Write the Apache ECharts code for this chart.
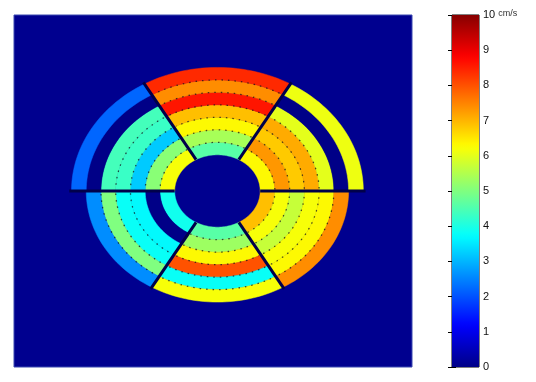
<!DOCTYPE html>
<html>
<head>
<meta charset="utf-8">
<script src="https://cdn.jsdelivr.net/npm/echarts/dist/echarts.min.js"></script>
<style>
  html, body { margin: 0; padding: 0; background: #ffffff; }
  #chart { width: 536px; height: 382px; }
</style>
</head>
<body>
<div id="chart"></div>
<script>
// Start angle of each 60-degree sector (degrees, counter-clockwise from east)
const sectorAngles = [0, 60, 120, 180, 240, 300];

// Speed in each radial ring of a sector, inner ring first (cm/s)
const ringsNE = [6.3, 7.3, 6.8, 7.1, 6.0, 0, 6.1];
const ringsN  = [4.6, 5.4, 6.3, 6.9, 8.6, 7.4, 8.4];
const ringsNW = [6.2, 5.1, 3.2, 4.3, 4.4, 0, 2.2];
const ringsSW = [3.9, 0, 3.7, 3.8, 5.0, 2.6];
const ringsS  = [4.6, 5.3, 6.3, 8.0, 3.8, 6.2];
const ringsSE = [6.9, 6.2, 5.7, 6.2, 6.3, 7.4];

// Colour bar tick labels
const colorbarTicks = [0, 1, 2, 3, 4, 5, 6, 7, 8, 9, 10];

// Radius of the empty core, in ring widths
const innerRadius = 2.9;

const sectors = [ringsNE, ringsN, ringsNW, ringsSW, ringsS, ringsSE];

// 64-step jet colormap
function jet(t) {
  const c = x => Math.round(255 * Math.max(0, Math.min(1, x)));
  const r = c(1.5 - Math.abs(4 * t - 3));
  const g = c(1.5 - Math.abs(4 * t - 2));
  const b = c(1.5 - Math.abs(4 * t - 1));
  return 'rgb(' + r + ',' + g + ',' + b + ')';
}
const jetColors = [];
for (let i = 0; i < 64; i++) jetColors.push(jet((i + 0.5) / 64));

// cells: [sector, ring, value]
const cells = [];
// dotted ring boundaries: [sector, boundaryIndex]
const boundaries = [];
sectors.forEach((rings, s) => {
  rings.forEach((v, i) => {
    cells.push([s, i, v]);
    if (i > 0 && v > 0 && rings[i - 1] > 0) boundaries.push([s, i]);
  });
});
// radial separators: [sector boundary index, outer radius]
const separators = sectorAngles.map((a, k) => {
  const prev = sectors[(k + 5) % 6].length, cur = sectors[k].length;
  return [k, innerRadius + Math.max(prev, cur)];
});

function arcPoints(api, r, a0, a1, steps) {
  const pts = [];
  for (let j = 0; j <= steps; j++) {
    const a = a0 + (a1 - a0) * j / steps;
    pts.push(api.coord([r * Math.cos(a), r * Math.sin(a)]));
  }
  return pts;
}

const chart = echarts.init(document.getElementById('chart'), null, { renderer: 'canvas' });

const gradStops = jetColors.map((c, i) => ({ offset: 1 - i / 63, color: c }));

chart.setOption({
  animation: false,
  backgroundColor: '#ffffff',
  grid: [
    { left: 14, top: 15, width: 398, height: 352, show: true,
      backgroundColor: '#00008f', borderColor: '#3a48b0', borderWidth: 1 },
    { left: 452, top: 15, width: 27, height: 352, show: true,
      backgroundColor: 'transparent', borderColor: '#000000', borderWidth: 1 }
  ],
  xAxis: [
    { gridIndex: 0, type: 'value', min: -13.8, max: 13.2, show: false },
    { gridIndex: 1, type: 'value', min: 0, max: 1, show: false }
  ],
  yAxis: [
    { gridIndex: 0, type: 'value', min: -14.1, max: 14.1, show: false },
    { gridIndex: 1, type: 'value', min: 0, max: 10, interval: 1, position: 'right',
      axisLine: { show: false }, splitLine: { show: false },
      axisTick: { show: true, inside: true, length: 4, lineStyle: { color: '#000' } },
      axisLabel: {
        show: true, margin: 4, color: '#111', fontSize: 11,
        fontFamily: 'Liberation Sans, Arial, sans-serif',
        formatter: v => colorbarTicks.indexOf(v) < 0 ? '' :
          (v === 10 ? '{n|10} {u|cm/s}' : '{n|' + v + '}'),
        rich: {
          n: { fontSize: 11, color: '#111', fontFamily: 'Liberation Sans, Arial, sans-serif' },
          u: { fontSize: 9, color: '#333', fontFamily: 'Liberation Sans, Arial, sans-serif', padding: [0, 0, 3, 0] }
        }
      } },
    { gridIndex: 1, type: 'value', min: 0, max: 10, interval: 1, position: 'left',
      axisLine: { show: false }, splitLine: { show: false }, axisLabel: { show: false },
      axisTick: { show: true, inside: true, length: 4, lineStyle: { color: '#000' } } }
  ],
  visualMap: {
    type: 'continuous', min: 0, max: 10, show: false,
    seriesIndex: 0, dimension: 2,
    inRange: { color: jetColors }
  },
  series: [
    {
      type: 'custom', xAxisIndex: 0, yAxisIndex: 0, data: cells,
      renderItem: (params, api) => {
        const s = api.value(0), i = api.value(1);
        const a0 = sectorAngles[s] * Math.PI / 180, a1 = a0 + Math.PI / 3;
        const rIn = innerRadius + i, rOut = rIn + 1;
        const outer = arcPoints(api, rOut, a0, a1, 30);
        const inner = arcPoints(api, rIn, a1, a0, 30);
        return { type: 'polygon', shape: { points: outer.concat(inner) },
          style: { fill: api.visual('color'), stroke: api.visual('color'), lineWidth: 0.5 } };
      }
    },
    {
      type: 'custom', xAxisIndex: 0, yAxisIndex: 0, data: boundaries, z: 3,
      renderItem: (params, api) => {
        const s = api.value(0), i = api.value(1);
        const a0 = sectorAngles[s] * Math.PI / 180, a1 = a0 + Math.PI / 3;
        return { type: 'polyline', shape: { points: arcPoints(api, innerRadius + i, a0 + 0.03, a1 - 0.03, 40) },
          style: { fill: null, stroke: 'rgba(20,20,30,0.75)', lineWidth: 1.3, lineDash: [1.5, 5] } };
      }
    },
    {
      type: 'custom', xAxisIndex: 0, yAxisIndex: 0, data: separators, z: 4,
      renderItem: (params, api) => {
        const k = api.value(0), rMax = api.value(1);
        const a = sectorAngles[k] * Math.PI / 180;
        const p0 = api.coord([innerRadius * Math.cos(a), innerRadius * Math.sin(a)]);
        const p1 = api.coord([(rMax + 0.15) * Math.cos(a), (rMax + 0.15) * Math.sin(a)]);
        return { type: 'line', shape: { x1: p0[0], y1: p0[1], x2: p1[0], y2: p1[1] },
          style: { stroke: '#00004a', lineWidth: 3 } };
      }
    },
    {
      type: 'custom', xAxisIndex: 1, yAxisIndex: 1, data: [[0, 0, 1, 10]], z: 1,
      renderItem: (params, api) => {
        const p0 = api.coord([api.value(0), api.value(3)]);
        const p1 = api.coord([api.value(2), api.value(1)]);
        return { type: 'rect', shape: { x: p0[0], y: p0[1], width: p1[0] - p0[0], height: p1[1] - p0[1] },
          style: { fill: new echarts.graphic.LinearGradient(0, 0, 0, 1, gradStops) } };
      }
    }
  ]
});
</script>
</body>
</html>
